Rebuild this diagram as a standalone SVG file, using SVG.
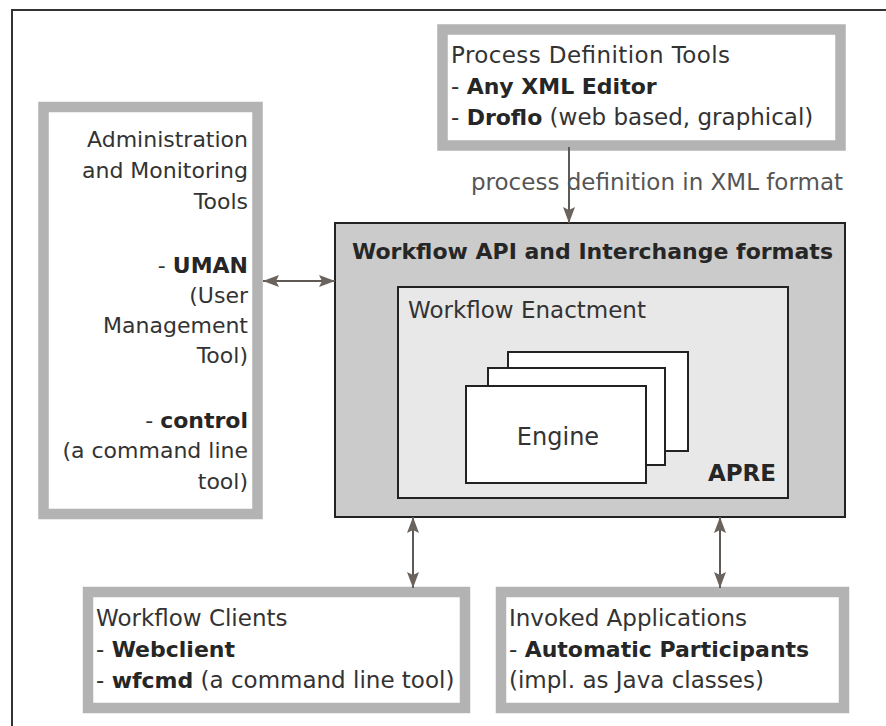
<svg xmlns="http://www.w3.org/2000/svg" width="886" height="726" viewBox="0 0 886 726">
  <style>
    text { font-family: "DejaVu Sans", "Liberation Sans", sans-serif; font-size: 23px; fill: #333; }
    .side text { font-size: 22px; }
    .b { font-weight: bold; fill: #262626; }
    .t22 { font-size: 22px; }
    .lbl { fill: #555; }
    .tool { fill: #fff; stroke: #b3b3b3; stroke-width: 10.5; }
    .box { stroke: #222; stroke-width: 2; }
    .conn { stroke: #5f5a56; stroke-width: 2; fill: none; }
  </style>
  <defs>
    <marker id="head" viewBox="0 0 16 12" refX="16" refY="6" markerWidth="16" markerHeight="12" markerUnits="userSpaceOnUse" orient="auto-start-reverse">
      <path d="M0,0 L16,6 L0,12 L3,6 Z" fill="#6a625c"/>
    </marker>
  </defs>

  <!-- outer frame, right and bottom edges run past the canvas -->
  <rect x="12" y="10" width="900" height="740" fill="#fff" stroke="#333" stroke-width="2"/>

  <g id="admin-tools" class="side">
    <rect class="tool" x="43.5" y="107" width="214" height="407"/>
    <g text-anchor="end">
      <text x="248" y="147">Administration</text>
      <text x="248" y="178">and Monitoring</text>
      <text x="248" y="209">Tools</text>
      <text x="248" y="273">- <tspan class="b">UMAN</tspan></text>
      <text x="248" y="303">(User</text>
      <text x="248" y="333">Management</text>
      <text x="248" y="363">Tool)</text>
      <text x="248" y="428">- <tspan class="b">control</tspan></text>
      <text x="248" y="458">(a command line</text>
      <text x="248" y="489">tool)</text>
    </g>
  </g>

  <g id="process-definition-tools">
    <rect class="tool" x="442.5" y="29.5" width="398" height="116"/>
    <text x="451" y="63" textLength="279" lengthAdjust="spacing">Process Definition Tools</text>
    <text x="451" y="94">- <tspan class="b t22">Any XML Editor</tspan></text>
    <text x="451" y="125">- <tspan class="b t22">Droflo</tspan> (web based, graphical)</text>
  </g>

  <g id="workflow-api">
    <rect class="box" x="335" y="223" width="510" height="294" fill="#cbcbcb"/>
    <text class="b t22" x="352" y="259">Workflow API and Interchange formats</text>
  </g>

  <g id="workflow-enactment">
    <rect class="box" x="398" y="287" width="390" height="211" fill="#e8e8e8"/>
    <text x="408" y="318">Workflow Enactment</text>
    <text class="b" x="776" y="481" text-anchor="end">APRE</text>
  </g>

  <g id="engines">
    <rect class="box" x="508" y="352" width="180" height="99" fill="#fff"/>
    <rect class="box" x="488" y="368" width="177" height="97" fill="#fff"/>
    <rect class="box" x="466" y="386" width="180" height="97" fill="#fff"/>
    <text x="558" y="445" text-anchor="middle" style="font-size:24px">Engine</text>
  </g>

  <g id="workflow-clients">
    <rect class="tool" x="88" y="592" width="377" height="116"/>
    <text x="96" y="626">Workflow Clients</text>
    <text x="96" y="657">- <tspan class="b t22">Webclient</tspan></text>
    <text x="96" y="688">- <tspan class="b t22">wfcmd</tspan> (a command line tool)</text>
  </g>

  <g id="invoked-applications">
    <rect class="tool" x="501" y="592" width="343" height="116"/>
    <text x="509" y="626">Invoked Applications</text>
    <text x="509" y="657">- <tspan class="b t22">Automatic Participants</tspan></text>
    <text x="509" y="688">(impl. as Java classes)</text>
  </g>

  <g id="connectors">
    <line class="conn" x1="569" y1="147" x2="569" y2="223" marker-end="url(#head)"/>
    <text class="lbl" x="471" y="190">process definition in XML format</text>
    <line class="conn" x1="263" y1="281" x2="335" y2="281" marker-start="url(#head)" marker-end="url(#head)"/>
    <line class="conn" x1="413" y1="517" x2="413" y2="588" marker-start="url(#head)" marker-end="url(#head)"/>
    <line class="conn" x1="720" y1="517" x2="720" y2="588" marker-start="url(#head)" marker-end="url(#head)"/>
  </g>
</svg>
